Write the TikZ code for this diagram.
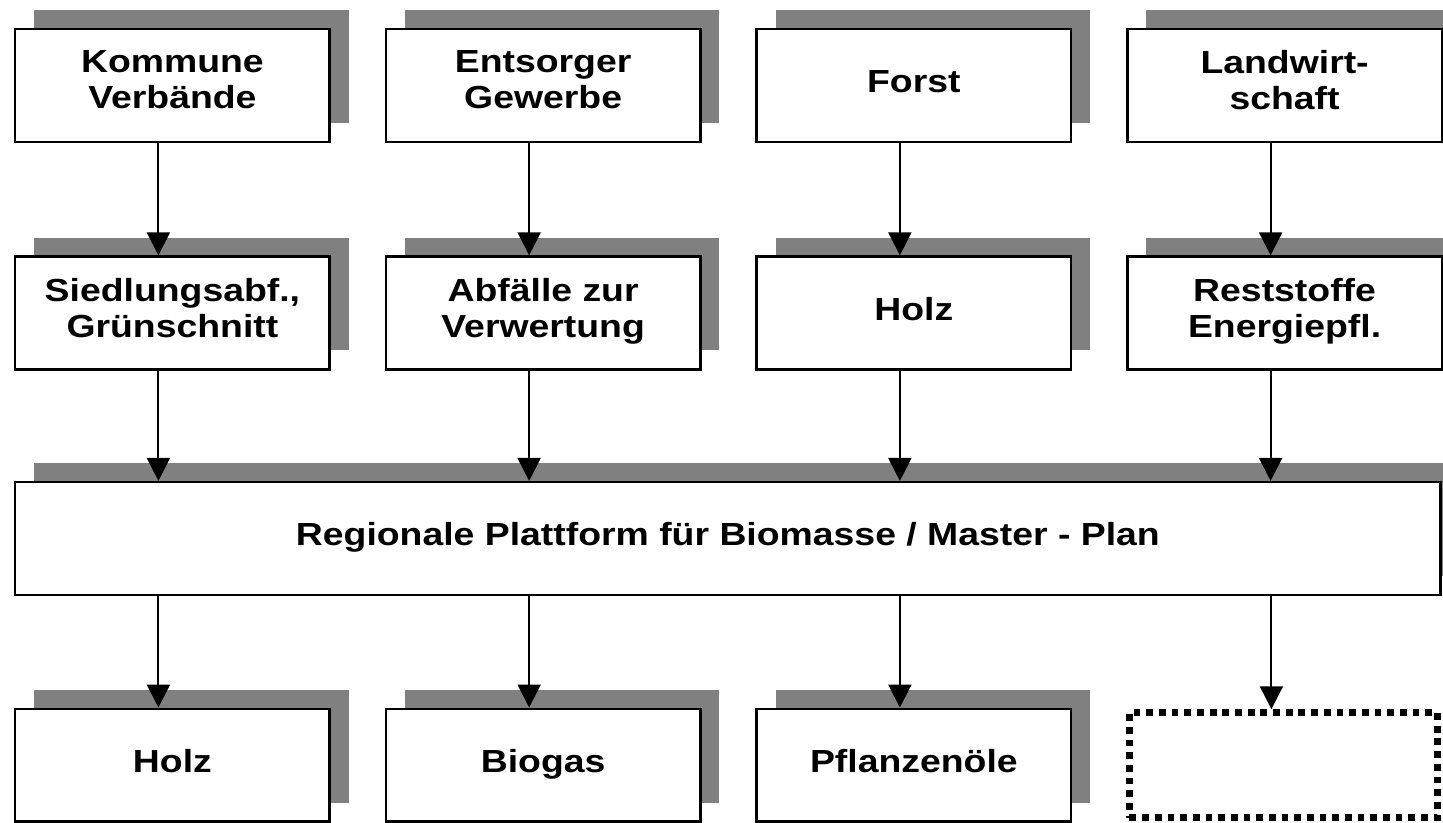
\documentclass[tikz,border=0pt]{standalone}
\usepackage{fontspec}
\setsansfont{Liberation Sans}[FakeStretch=1.17]
\usepackage{tikz}
\usetikzlibrary{arrows.meta,positioning,shadows}
\definecolor{bmgray}{HTML}{808080}

\begin{document}
\begin{tikzpicture}[
  font=\sffamily\bfseries\fontsize{16}{18}\selectfont,
  box/.style={draw=black,line width=1.2pt,fill=white,inner sep=0pt,
              minimum width=157.5pt,minimum height=56.5pt,align=center,
              execute at begin node=\strut,execute at end node=\strut,
              drop shadow={shadow xshift=9.5pt,shadow yshift=9.5pt,
                           fill=bmgray,opacity=1}},
  plain/.style={box,minimum width=714pt},
  open/.style={draw=black,line width=3.3pt,dash pattern=on 3.4pt off 2.95pt,
               fill=white,inner sep=0pt,minimum width=154.2pt,minimum height=52.7pt},
  flow/.style={-{Triangle[width=11.5pt,length=11.5pt]},line width=1pt,draw=black},
]

% sources
\node[box] (kommune) at (0,0) {Kommune\\Verbände};
\node[box,right=27pt of kommune] (entsorger) {Entsorger\\Gewerbe};
\node[box,right=27pt of entsorger] (forst) {Forst};
\node[box,right=27pt of forst] (landw) {Landwirt-\\schaft};

\useasboundingbox ([xshift=-7pt,yshift=13.9pt]kommune.north west) rectangle ++(721.5pt,-412pt);

% material streams
\node[box,below=56.3pt of kommune] (siedl) {Siedlungsabf.,\\Grünschnitt};
\node[box,below=56.3pt of entsorger] (abfall) {Abfälle zur\\Verwertung};
\node[box,below=56.3pt of forst] (holzin) {Holz};
\node[box,below=56.3pt of landw] (rest) {Reststoffe\\Energiepfl.};

% the platform
\node[plain,below right=55.3pt and 0pt of siedl.south west] (platform)
  {Regionale Plattform für Biomasse / Master - Plan};

% uses
\node[box,below right=55.8pt and 0pt of platform.south west] (holz) {Holz};
\node[box,right=27pt of holz] (biogas) {Biogas};
\node[box,right=27pt of biogas] (oel) {Pflanzenöle};
\node[open,right=27pt of oel] (spare) {};

\draw[flow] ([xshift=-7pt]kommune.south) -- ([xshift=-7pt]siedl.north);
\draw[flow] ([xshift=-7pt]entsorger.south) -- ([xshift=-7pt]abfall.north);
\draw[flow] ([xshift=-7pt]forst.south) -- ([xshift=-7pt]holzin.north);
\draw[flow] ([xshift=-7pt]landw.south) -- ([xshift=-7pt]rest.north);

\draw[flow] ([xshift=-7pt]siedl.south) -- ([xshift=-7pt]siedl.south |- platform.north);
\draw[flow] ([xshift=-7pt]abfall.south) -- ([xshift=-7pt]abfall.south |- platform.north);
\draw[flow] ([xshift=-7pt]holzin.south) -- ([xshift=-7pt]holzin.south |- platform.north);
\draw[flow] ([xshift=-7pt]rest.south) -- ([xshift=-7pt]rest.south |- platform.north);

\draw[flow] ([xshift=-7pt]holz.north |- platform.south) -- ([xshift=-7pt]holz.north);
\draw[flow] ([xshift=-7pt]biogas.north |- platform.south) -- ([xshift=-7pt]biogas.north);
\draw[flow] ([xshift=-7pt]oel.north |- platform.south) -- ([xshift=-7pt]oel.north);
\draw[flow] ([xshift=-6pt]spare.north |- platform.south) -- ([xshift=-6pt]spare.north);

\end{tikzpicture}
\end{document}
